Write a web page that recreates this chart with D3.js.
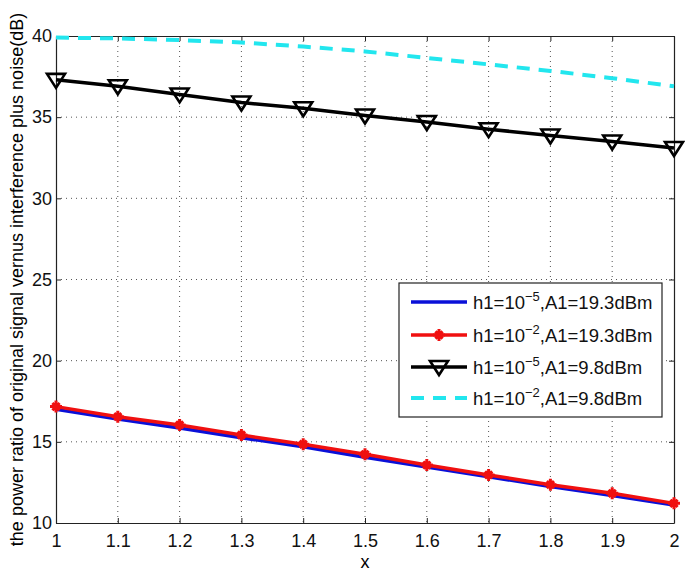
<!DOCTYPE html>
<html><head><meta charset="utf-8">
<script src="https://cdn.jsdelivr.net/npm/d3@7"></script>
<style>body{margin:0;background:#fff}svg{display:block}text{font-family:"Liberation Sans",Arial,sans-serif}</style>
</head><body><svg id="c" width="685" height="573"></svg>
<script>
const xs = [1,1.1,1.2,1.3,1.4,1.5,1.6,1.7,1.8,1.9,2];
const blue = [17.0,16.4,15.85,15.25,14.7,14.05,13.45,12.85,12.25,11.7,11.1];
const red = [17.17,16.55,16.04,15.42,14.85,14.23,13.57,12.96,12.36,11.83,11.21];
const black = [37.3,36.9,36.4,35.9,35.55,35.1,34.7,34.26,33.87,33.5,33.1];
const cyan = [39.9,39.85,39.75,39.6,39.35,39.05,38.65,38.25,37.85,37.4,36.9];
const xTicks = [1,1.1,1.2,1.3,1.4,1.5,1.6,1.7,1.8,1.9,2];
const yTicks = [10,15,20,25,30,35,40];
const legendItems = [
  {pow:"−5", a:"19.3dBm", key:"blue"},
  {pow:"−2", a:"19.3dBm", key:"red"},
  {pow:"−5", a:"9.8dBm", key:"black"},
  {pow:"−2", a:"9.8dBm", key:"cyan"}
];

const svg = d3.select("#c");
const L=56,R=674,T=36,B=523;
const x = d3.scaleLinear().domain([1,2]).range([L,R]);
const y = d3.scaleLinear().domain([10,40]).range([B,T]);

// grid
const g = svg.append("g");
g.selectAll(".gx").data(xTicks.slice(1,-1)).join("line")
  .attr("x1",d=>x(d)).attr("x2",d=>x(d)).attr("y1",T).attr("y2",B)
  .attr("stroke","#555").attr("stroke-width",1).attr("stroke-dasharray","1,4");
g.selectAll(".gy").data(yTicks.slice(1,-1)).join("line")
  .attr("y1",d=>y(d)).attr("y2",d=>y(d)).attr("x1",L).attr("x2",R)
  .attr("stroke","#555").attr("stroke-width",1).attr("stroke-dasharray","1,4");

// axes
const ax = svg.append("g").attr("transform",`translate(0,${B})`)
  .call(d3.axisBottom(x).tickValues(xTicks).tickFormat(d3.format("")).tickSizeInner(-5).tickSizeOuter(0).tickPadding(11));
const ay = svg.append("g").attr("transform",`translate(${L},0)`)
  .call(d3.axisLeft(y).tickValues(yTicks).tickSizeInner(-5).tickSizeOuter(0).tickPadding(4));
const at = svg.append("g").attr("transform",`translate(0,${T})`)
  .call(d3.axisTop(x).tickValues(xTicks).tickFormat("").tickSizeInner(-5).tickSizeOuter(0));
const ar = svg.append("g").attr("transform",`translate(${R},0)`)
  .call(d3.axisRight(y).tickValues(yTicks).tickFormat("").tickSizeInner(-5).tickSizeOuter(0));
[ax,ay,at,ar].forEach(a=>{
  a.attr("font-size",null).attr("font-family",null);
  a.select(".domain").attr("stroke","#222").attr("stroke-width",1.2);
  a.selectAll(".tick line").attr("stroke","#222");
  a.selectAll("text").style("font-size","18px").attr("fill","#111");
});

// labels
svg.append("text").attr("x",(L+R)/2).attr("y",568).attr("text-anchor","middle").style("font-size","18px").text("x");
svg.append("text").attr("transform",`translate(23,${(T+B)/2}) rotate(-90)`).attr("text-anchor","middle")
  .style("font-size","18px").text("the power ratio of original signal vernus interference plus noise(dB)");

const line = d3.line().x((d,i)=>x(xs[i])).y(d=>y(d));
const plot = svg.append("g");
plot.append("path").datum(cyan).attr("d",line).attr("fill","none").attr("stroke","#22e6ee").attr("stroke-width",4).attr("stroke-dasharray","13,9");
plot.append("path").datum(blue).attr("d",line).attr("fill","none").attr("stroke","#0a10d8").attr("stroke-width",3.5);
plot.append("path").datum(red).attr("d",line).attr("fill","none").attr("stroke","#f01010").attr("stroke-width",3.5);
plot.append("path").datum(black).attr("d",line).attr("fill","none").attr("stroke","#000").attr("stroke-width",3.5);

function star(sel,cx,cy){
  const s=6;
  sel.append("path").attr("d",`M${cx-s},${cy}L${cx+s},${cy}M${cx},${cy-s}L${cx},${cy+s}M${cx-s*0.6},${cy-s*0.6}L${cx+s*0.6},${cy+s*0.6}M${cx-s*0.6},${cy+s*0.6}L${cx+s*0.6},${cy-s*0.6}`)
    .attr("stroke","#f01010").attr("stroke-width",3).attr("fill","none");
  sel.append("circle").attr("cx",cx).attr("cy",cy).attr("r",3.2).attr("fill","#f01010");
}
function tri(sel,cx,cy){
  const w=9;
  sel.append("path").attr("d",`M${cx-w},${cy-6}L${cx+w},${cy-6}L${cx},${cy+8}Z`)
    .attr("stroke","#000").attr("stroke-width",2.6).attr("fill","none");
}
red.forEach((v,i)=>star(plot,x(xs[i]),y(v)));
black.forEach((v,i)=>tri(plot,x(xs[i]),y(v)));

// legend
const lg = svg.append("g");
lg.append("rect").attr("x",399).attr("y",283).attr("width",263).attr("height",134).attr("fill","#fff").attr("stroke","#222").attr("stroke-width",1.2);
const ly = [302,335,367,398];
const styles = {
  blue:{c:"#0a10d8",w:3.5,dash:null},
  red:{c:"#f01010",w:3.5,dash:null},
  black:{c:"#000",w:3.5,dash:null},
  cyan:{c:"#22e6ee",w:4,dash:"13,9"}
};
legendItems.forEach((it,i)=>{
  const s=styles[it.key];
  const ln=lg.append("line").attr("x1",411).attr("x2",467).attr("y1",ly[i]).attr("y2",ly[i]).attr("stroke",s.c).attr("stroke-width",s.w);
  if(s.dash) ln.attr("stroke-dasharray",s.dash);
  if(it.key==="red") star(lg,439,ly[i]);
  if(it.key==="black") tri(lg,439,ly[i]);
  const t=lg.append("text").attr("x",473).attr("y",ly[i]+7).style("font-size","18.5px").attr("fill","#111");
  t.append("tspan").text("h1=10");
  t.append("tspan").attr("dy",-8).style("font-size","13px").text(it.pow);
  t.append("tspan").attr("dy",8).text(",A1="+it.a);
});
</script></body></html>
